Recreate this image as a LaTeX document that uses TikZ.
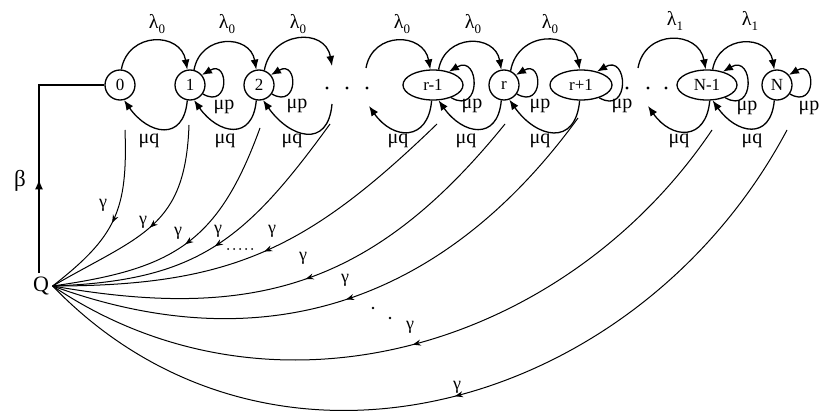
\documentclass[tikz,border=0pt]{standalone}
\usepackage{fontspec}
\setmainfont{Liberation Serif}
\usetikzlibrary{arrows.meta,shapes.geometric,decorations.markings}
\newcommand{\lsub}[1]{\raisebox{-0.45ex}{\fontsize{13}{13}\selectfont #1}}
\begin{document}
\begin{tikzpicture}[x=1pt,y=-1pt,
  cst/.style={draw,circle,line width=1.3pt,minimum size=30pt,inner sep=0pt,font=\fontsize{17}{17}\selectfont},
  est/.style={draw,ellipse,line width=1.3pt,minimum width=#1,minimum height=30pt,inner sep=0pt,font=\fontsize{17}{17}\selectfont},
  tip/.style={-{Latex[length=10pt,width=8pt]}},
  lam/.style={line width=1.3pt,tip,out=80,in=100,looseness=1.5},
  muq/.style={line width=1.3pt,tip,out=-95,in=-55,looseness=1.7},
  slf/.style={line width=1.3pt,tip,out=-30,in=30,looseness=#1},
  lbl/.style={inner sep=0pt,font=\fontsize{20}{20}\selectfont},
  glbl/.style={inner sep=0pt,font=\fontsize{18}{18}\selectfont},
  gc/.style={line width=1.0pt,postaction={decorate},decoration={markings,mark=at position #1 with {\arrow{Stealth[length=8pt,width=6pt]}}}}
]
\useasboundingbox (0,0) rectangle (821,414);
% states
\node[cst] (n0) at (120,85) {0};
\node[cst] (n1) at (190,85) {1};
\node[cst] (n2) at (259,85) {2};
\node[est=60pt] (nr1) at (433,85) {r-1};
\node[cst] (nr) at (504,85) {r};
\node[est=62pt] (nr2) at (581,85) {r+1};
\node[est=60pt] (nN1) at (707,85) {N-1};
\node[cst] (nN) at (777,85) {N};
\node[inner sep=3.5pt,font=\fontsize{22}{22}\selectfont] (Q) at (41,286) {Q};
\node[inner sep=0pt,font=\fontsize{23}{23}\selectfont] (beta) at (20,181) {β};
% helper coordinates near the dots
\coordinate (da) at (332,66);
\coordinate (db) at (366,68);
\coordinate (de) at (638,68);
\coordinate (dc) at (332,104);
\coordinate (dd) at (369,106);
\coordinate (df) at (648,106);
% dots
\foreach \x in {327,347,367,627,648,666} \fill (\x,88) circle[radius=1.7pt];
% beta line
\draw[line width=1.3pt,postaction={decorate},decoration={markings,mark=at position 0.37 with {\arrow{Latex[length=10pt,width=8pt]}}}] ([xshift=-2pt]Q.north) |- (n0.west);
% lambda arcs
\draw[lam] (n0.85) to (n1.100);
\draw[lam] (n1.75) to (n2.100);
\draw[lam] (n2.70) to (da);
\draw[lam] (db) to (nr1.100);
\draw[lam] (nr1.70) to (nr.100);
\draw[lam] (nr.65) to (nr2.95);
\draw[lam] (de) to (nN1.95);
\draw[lam] (nN1.70) to (nN.100);
\node[lbl] (l1) at (157,24) {λ\lsub{0}};
\node[lbl] (l2) at (227,24) {λ\lsub{0}};
\node[lbl] (l3) at (298,24) {λ\lsub{0}};
\node[lbl] (l4) at (402,24) {λ\lsub{0}};
\node[lbl] (l5) at (473,24) {λ\lsub{0}};
\node[lbl] (l6) at (550,24) {λ\lsub{0}};
\node[lbl] (l7) at (675,21) {λ\lsub{1}};
\node[lbl] (l8) at (750,21) {λ\lsub{1}};
% mu q arcs
\draw[muq] (n1.-100) to (n0.-75);
\draw[muq] (n2.-100) to (n1.-75);
\draw[muq] (dc) to (n2.-75);
\draw[muq] (nr1.-95) to (dd);
\draw[muq] (nr.-100) to (nr1.-70);
\draw[muq] (nr2.-95) to (nr.-70);
\draw[muq] (nN1.-80) to (df);
\draw[muq] (nN.-100) to (nN1.-70);
\foreach \x/\n in {149/1,225/2,292/3,398/4,466/5,540/6,679/7,752/8} \node[lbl] (q\n) at (\x,141) {μq};
% self loops
\draw[slf=4.2] (n1.-35) to (n1.40);
\draw[slf=4.2] (n2.-35) to (n2.40);
\draw[slf=3.5] (nr1.-35) to (nr1.40);
\draw[slf=4.2] (nr.-35) to (nr.40);
\draw[slf=3.5] (nr2.-35) to (nr2.40);
\draw[slf=3.5] (nN1.-35) to (nN1.40);
\draw[slf=4.2] (nN.-35) to (nN.40);
\foreach \x/\y/\n in {224/107/1,297/106/2,472/106/3,540/106/4,622/106/5,747/108/6,809/108/7} \node[lbl] (p\n) at (\x,\y) {μp};
% gamma curves
\coordinate (s0) at (125,130);
\coordinate (s1) at (189,125);
\coordinate (s2) at (260,128);
\coordinate (sd) at (330,124);
\coordinate (sr1) at (437,124);
\coordinate (sr) at (505,124);
\coordinate (sr2) at (578,118);
\coordinate (sn1) at (712,130);
\coordinate (sn) at (787,130);
\draw[gc=0.52] (s0) to[out=-88,in=38,looseness=1.2] (Q.east);
\draw[gc=0.5] (s1) to[out=-92,in=30,looseness=1.25] (Q.east);
\draw[gc=0.5] (s2) to[out=-110,in=8,looseness=1.2] (Q.east);
\draw[gc=0.5] (sd) to[out=-126,in=2,looseness=1.15] (Q.east);
\draw[gc=0.5] (sr1) to[out=-136,in=0,looseness=1.1] (Q.east);
\draw[gc=0.5] (sr) to[out=-129,in=-10,looseness=1.1] (Q.east);
\draw[gc=0.5] (sr2) to[out=-126,in=-20,looseness=1.05] (Q.east);
\draw[gc=0.5] (sn1) to[out=-124,in=-34,looseness=1.0] (Q.east);
\draw[gc=0.5] (sn) to[out=-118,in=-46,looseness=1.08] (Q.east);
\foreach \x/\y/\n in {103/205/1,143/222/2,178/233/3,218/231/4,272/231/5,303/258/6,345/280/7,410/327/8,457/387/9} \node[glbl] (g\n) at (\x,\y) {γ};
\foreach \x in {228,234,240,246,252} \fill (\x,249) circle[radius=1pt];
\fill (373,308) circle[radius=1.4pt];
\fill (390,318) circle[radius=1.4pt];
\end{tikzpicture}
\end{document}
